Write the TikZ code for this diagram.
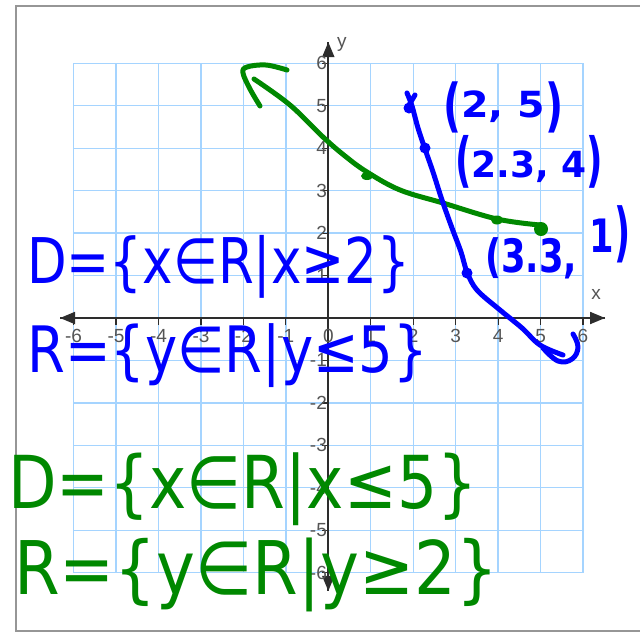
\documentclass[tikz,border=0pt]{standalone}
\usepackage{fontspec}
\setmainfont{DejaVu Sans}
\newfontfamily\axisfont{Liberation Sans}
\usetikzlibrary{arrows.meta}
\definecolor{inkblue}{RGB}{0,0,255}
\definecolor{inkgreen}{RGB}{0,136,0}
\definecolor{gridblue}{RGB}{165,212,255}
\definecolor{axisgray}{RGB}{45,45,45}
\definecolor{labelgray}{RGB}{85,85,85}
\definecolor{framegray}{RGB}{150,150,150}
\newcommand{\tallp}[3]{\raisebox{#1}{\scalebox{1}[#2]{#3}}}
\begin{document}
\begin{tikzpicture}[x=1pt,y=-1pt,
  ink/.style={line width=5pt, line cap=round, line join=round},
  hand/.style={inner sep=0pt, anchor=base west},
  ticklbl/.style={font=\axisfont\fontsize{19}{19}\selectfont, text=labelgray, inner sep=0pt},
  axtip/.style={-{Triangle[length=15pt,width=12pt]}}]
\clip (0,0) rectangle (640,633);
\fill[white] (0,0) rectangle (640,633);
\draw[framegray, line width=2pt] (16,6) rectangle (660,631);

\begin{scope}[shift={(328.3,318)}, x=42.45pt, y=42.45pt]
  \foreach \i in {-6,...,6} {
    \draw[gridblue, line width=1.3pt] (\i,-6) -- (\i,6);
    \draw[gridblue, line width=1.3pt] (-6,\i) -- (6,\i);
  }
  \coordinate (xl) at (-6.32,0);
  \coordinate (xr) at (6.52,0);
  \coordinate (yb) at (0,-6.43);
  \coordinate (yt) at (0,6.50);
  \draw[axisgray, line width=1.8pt, axtip] (xl) -- (xr);
  \draw[axisgray, line width=1.8pt, axtip] (xr) -- (xl);
  \draw[axisgray, line width=1.8pt, axtip] (yb) -- (yt);
  \draw[axisgray, line width=1.8pt, axtip] (yt) -- (yb);
  \foreach \i in {-6,...,6} {
    \draw[axisgray, line width=1.2pt] (\i,0) -- ++(0,-0.16);
    \node[ticklbl] (xlab\i) at (\i,-0.43) {\i};
  }
  \foreach \i in {-6,...,-1,1,2,...,6} {
    \draw[axisgray, line width=1.2pt] (0,\i) -- ++(-0.16,0);
    \node[ticklbl, anchor=east] (ylab\i) at (-0.03,\i) {\i};
  }
  \node[ticklbl] (xname) at (6.31,0.56) {x};
  \node[ticklbl] (yname) at (0.32,6.44) {y};
\end{scope}

% green curve with hand-drawn arrowhead
\draw[inkgreen, ink] plot[smooth, tension=0.6] coordinates
  {(287,70) (266,65) (247,67) (243,73) (250,89) (260,106)};
\draw[inkgreen, ink] plot[smooth, tension=0.6] coordinates
  {(254,79) (290,105) (323,137) (345,156) (367,172) (400,190) (443,203) (497,219) (540,225)};
\fill[inkgreen] (367,176) ellipse (6pt and 4pt);
\fill[inkgreen] (497,220) ellipse (6pt and 4.5pt);
\fill[inkgreen] (541,229) circle (7pt);

% blue curve
\draw[inkblue, ink] plot[smooth, tension=0.6] coordinates
  {(407,93) (412,106) (418,128) (425,149) (433,172) (442,200) (452,228) (461,252) (467,272) (477,290) (500,310) (522,328) (540,345) (563,355)};
\draw[inkblue, ink] plot[smooth, tension=0.7] coordinates
  {(543,348) (558,361) (572,359) (578,347) (573,334)};
\draw[inkblue, ink] (415,95) -- (409,105);
\fill[inkblue] (409,108) circle (5.5pt);
\fill[inkblue] (425,148) circle (5.5pt);
\fill[inkblue] (467,273) circle (5.5pt);

% blue point labels
\node[hand, text=inkblue] (p25) at (443,117)
  {\resizebox{120pt}{\height}{\fontsize{36}{36}\selectfont\bfseries\tallp{-8.5pt}{1.6}{(}2, 5\tallp{-8.5pt}{1.6}{)}}};
\node[hand, text=inkblue] (p234) at (455,177)
  {\resizebox{148pt}{\height}{\fontsize{36}{36}\selectfont\bfseries\tallp{-3.3pt}{1.65}{(}2.3, 4\tallp{-3.3pt}{1.65}{)}}};
\node[hand, text=inkblue] (p331) at (485,272)
  {\resizebox{145pt}{\height}{\fontsize{46}{46}\selectfont\bfseries (3.3, \raisebox{20pt}{1\tallp{-2pt}{1.4}{)}}}};

% blue domain / range
\node[hand, text=inkblue] (bD) at (27,283)
  {\resizebox{383pt}{\height}{\fontsize{63}{63}\selectfont D=\{x∈R|x≥2\}}};
\node[hand, text=inkblue] (bR) at (27,372)
  {\resizebox{401pt}{\height}{\fontsize{64}{64}\selectfont R=\{y∈R|y≤5\}}};

% green domain / range
\node[hand, text=inkgreen] (gD) at (8,508)
  {\resizebox{469pt}{\height}{\fontsize{73}{73}\selectfont D=\{x∈R|x≤5\}}};
\node[hand, text=inkgreen] (gR) at (14,594)
  {\resizebox{484pt}{\height}{\fontsize{74}{74}\selectfont R=\{y∈R|y≥2\}}};
\end{tikzpicture}
\end{document}
